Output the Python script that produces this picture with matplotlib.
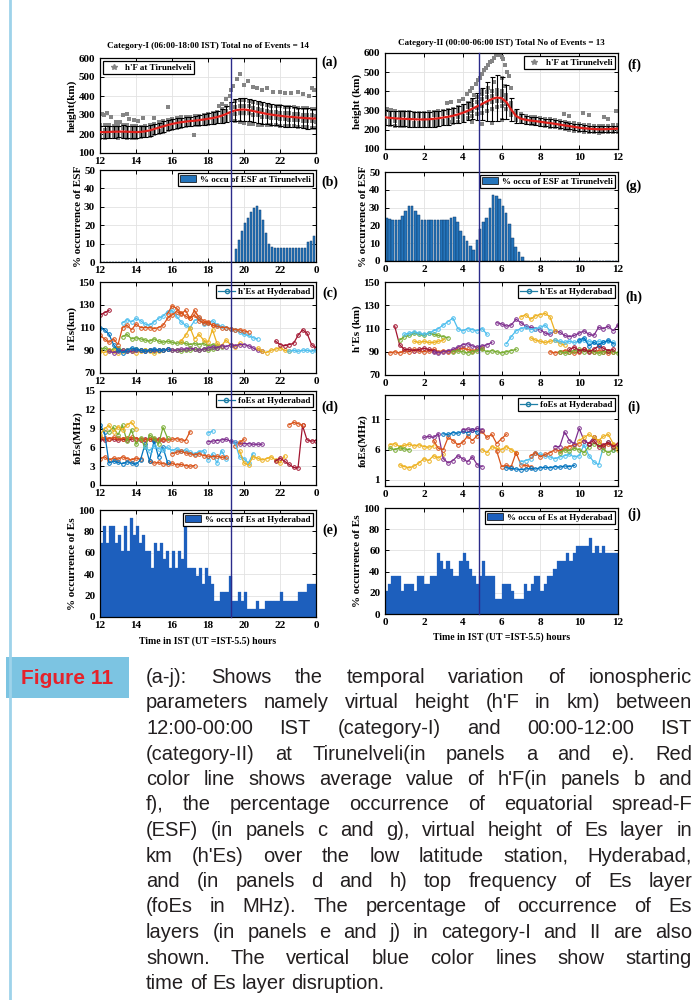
import numpy as np
import matplotlib
matplotlib.use("Agg")
import matplotlib.pyplot as plt
from matplotlib import font_manager
from matplotlib.lines import Line2D
from matplotlib.patches import Patch, Rectangle
from matplotlib.transforms import blended_transform_factory

# ---------------------------------------------------------------- data
STEP = 0.25          # h'F / Es-trace sampling interval (hours)
BIN = 1.0 / 6.0      # occurrence histogram bin (hours)

# Category-I : 12-24 IST
cat1_title = "Category-I (06:00-18:00 IST) Total no of Events = 14"
cat1_xticks = [12, 14, 16, 18, 20, 22, 24]
cat1_xticklabels = ["12", "14", "16", "18", "20", "22", "0"]
cat1_disrupt = 19.3

hf1_mean = [210, 210, 211, 212, 212, 213, 212, 211, 210, 211,
            214, 219, 226, 233, 240, 247, 253, 258, 262, 265,
            268, 270, 273, 276, 280, 284, 289, 296, 305, 316,
            324, 328, 329, 326, 321, 316, 311, 306, 302, 299,
            296, 293, 291, 289, 287, 285, 283, 282, 281]
hf1_err = [32, 30, 33, 31, 30, 32, 31, 30, 30, 29,
           28, 30, 28, 27, 28, 26, 27, 25, 24, 25,
           24, 25, 26, 27, 28, 30, 32, 36, 42, 50,
           58, 60, 62, 60, 58, 57, 56, 55, 55, 54,
           55, 54, 55, 53, 52, 54, 55, 52, 50]
hf1_upper = [245, 248, 250, 244, 246, 250, 247, 243, 240, 238,
             244, 250, 255, 262, 270, 276, 280, 283, 287, 290,
             292, 293, 296, 300, 305, 310, 318, 330, 345, 360,
             372, 378, 380, 375, 368, 362, 358, 352, 350, 348,
             346, 344, 342, 340, 338, 337, 335, 332, 330]
hf1_lower = [180, 178, 182, 185, 180, 183, 180, 178, 180, 183,
             188, 192, 198, 205, 212, 220, 228, 233, 238, 242,
             245, 247, 250, 253, 255, 258, 262, 265, 270, 278,
             268, 262, 258, 255, 252, 250, 248, 246, 246, 245,
             244, 242, 242, 240, 238, 236, 235, 234, 233]
hf1_mid_hi = [225, 222, 228, 226, 224, 230, 226, 225, 222, 225,
              228, 235, 240, 248, 255, 262, 268, 272, 276, 280,
              282, 284, 287, 290, 295, 298, 305, 312, 322, 335,
              342, 346, 348, 345, 338, 332, 328, 322, 318, 316,
              312, 310, 308, 305, 303, 300, 300, 298, 296]
hf1_mid_lo = [195, 198, 196, 200, 197, 198, 199, 196, 195, 197,
              200, 205, 212, 218, 225, 232, 238, 244, 248, 250,
              253, 256, 258, 262, 265, 270, 275, 280, 288, 298,
              305, 310, 312, 308, 302, 298, 292, 288, 285, 282,
              280, 278, 276, 274, 272, 270, 268, 266, 265]
hf1_out_t = [12.1, 12.2, 12.4, 12.6, 12.9, 13.1, 13.3, 13.5, 13.6, 13.9,
             14.1, 14.4, 15.0, 15.8, 17.2, 18.6, 18.8, 19.0, 19.2, 19.3,
             19.4, 19.6, 19.8, 20.0, 20.2, 20.5, 20.7, 21.0, 21.3, 21.6,
             22.0, 22.3, 22.6, 23.0, 23.3, 23.6, 23.8, 23.9]
hf1_out_h = [305, 300, 310, 292, 262, 265, 300, 305, 280, 275,
             270, 282, 285, 340, 195, 350, 360, 385, 400, 430,
             455, 490, 515, 460, 478, 450, 440, 430, 440, 420,
             420, 415, 418, 420, 410, 400, 440, 430]

esf1 = ([0] * 45 +
        [7, 12, 17, 21, 24, 27, 29.5, 30.5] +
        [28, 23, 16, 10, 8] +
        [7.5] * 11 +
        [11, 11.5, 14])

# (colour index, start hour, values every STEP hours)
hes1_traces = [
    (4, 12.0, [91, 92, 90, 91, 92, 90, 89, 90, 91, 90, 90, 90, 89, 90, 90, 91,
               90, 90, 89, 90, 90, 91, 90, 91, 90, 91, 92]),
    (2, 12.0, [89, 88, 90, 89, 88, 89, 90, 89, 88, 89, 90, 89, 88, 89, 90]),
    (3, 12.5, [89, 88, 89, 90, 89, 89, 90, 90, 89, 90, 90, 90, 90, 91, 90, 90,
               91, 91, 92, 91]),
    (0, 12.0, [110, 108, 104, 95, 90, 88, 90, 92, 91, 90, 89, 90, 91, 90, 90, 91]),
    (4, 13.25, [102, 104, 100, 101, 100, 99, 98, 100, 98, 97, 98, 97, 96, 97, 96,
                95, 96, 95, 96, 94, 95, 94, 93]),
    (5, 13.25, [114, 117, 115, 118, 116, 113, 112, 115, 118, 120, 124, 125, 120,
                115, 112, 110, 116, 118, 113, 114, 116, 112, 111, 110, 109, 108,
                106, 104, 103, 101, 100]),
    (1, 12.0, [103, 100, 97, 100, 95, 110, 112, 108, 113, 110, 110, 110, 109, 110,
               112, 118, 121, 124, 122, 125, 118, 121, 116, 114, 115, 112, 111,
               110, 110, 109, 108, 108, 107, 106]),
    (1, 15.75, [122, 129, 127, 123, 120, 118, 125, 119, 116, 114, 112]),
    (2, 16.5, [98, 103, 110, 100, 104, 99, 97, 108, 96, 94, 99, 95, 93, 96]),
    (6, 12.0, [121, 123, 125]),
    (3, 17.5, [90, 91, 92, 93, 92, 94, 93, 95, 94, 95, 95, 94, 92, 90, 89]),
    (2, 20.75, [92, 89, 88, 90, 91, 92, 90, 89]),
    (6, 21.75, [98, 95, 94, 95, 96, 103, 108, 105, 95, 92]),
    (5, 22.5, [89, 90, 89, 90, 90, 89, 90]),
]

foes1_traces = [
    (6, 12.0, [7.3, 7.2, 7.4, 7.3, 7.2, 7.3, 7.2, 7.3, 7.4, 7.2, 7.3, 7.3, 7.2, 7.3, 7.2]),
    (1, 12.0, [7.6, 7.5, 7.4, 7.6, 7.5, 7.4, 7.5, 7.6, 7.4, 7.3, 7.2, 7.3, 7.4, 7.2,
               7.3, 7.2, 7.3, 7.4, 7.2, 7.1, 8.5]),
    (1, 12.0, [4.2, 4.5, 4.0, 4.3, 4.1, 4.5, 4.2, 4.0, 4.3, 4.1]),
    (1, 14.75, [3.8, 3.5, 3.6, 3.4, 3.3, 3.5, 3.2, 3.3, 3.1, 3.0, 3.1]),
    (0, 12.0, [9.6, 8.4, 3.5, 3.8, 3.6, 3.4, 3.7, 3.5, 3.3, 4.0, 6.5, 3.8, 7.0, 4.5,
               6.0, 3.6]),
    (4, 12.5, [8.5, 9.2, 8.0, 9.5, 7.0, 8.8, 6.5, 7.5, 6.0, 8.0, 7.5, 6.5, 9.2, 7.5]),
    (2, 12.0, [8.0, 9.0, 9.5, 8.5, 9.3, 8.8, 9.6, 10.0, 9.0]),
    (5, 14.5, [6.0, 5.5, 6.2, 5.8, 5.6, 6.0, 5.5, 5.8, 5.4, 5.6, 5.2, 5.0, 5.3, 5.5,
               4.0, 5.0, 3.5, 5.5, 4.2]),
    (1, 16.0, [5.0, 5.2, 5.4, 5.1, 5.0, 4.8, 5.0, 4.7, 4.6, 4.5, 4.6, 4.4, 4.5]),
    (5, 18.0, [8.3, 8.6]),
    (3, 18.0, [6.9, 7.0, 7.1, 7.2, 7.3, 7.0, 6.8, 6.6, 6.6, 6.6, 6.5, 6.5, 6.5]),
    (1, 19.5, [6.3, 6.8, 7.3]),
    (5, 19.5, [6.8, 4.5, 4.2, 3.5, 5.0]),
    (2, 19.75, [5.5, 3.5, 3.2, 4.5, 4.3, 4.0, 4.2, 4.5, 4.0, 3.5, 4.6]),
    (6, 21.75, [3.8, 4.3, 3.8, 3.3, 2.8, 2.7, 9.5, 7.2, 7.0, 7.1]),
    (1, 22.5, [9.6, 10.0, 9.8, 9.5]),
]

es1 = [69.2, 84.6, 69.2, 84.6, 84.6, 69.2, 76.9, 61.5, 84.6, 61.5,
       92.3, 76.9, 84.6, 69.2, 76.9, 61.5, 61.5, 46.2, 69.2, 61.5,
       69.2, 53.8, 61.5, 46.2, 61.5, 46.2, 61.5, 53.8, 84.6, 46.2,
       46.2, 46.2, 38.5, 46.2, 30.8, 46.2, 38.5, 30.8, 15.4, 15.4,
       23.1, 23.1, 23.1, 38.5, 15.4, 15.4, 23.1, 15.4, 23.1, 7.7,
       7.7, 7.7, 15.4, 7.7, 7.7, 15.4, 15.4, 15.4, 15.4, 15.4,
       23.1, 15.4, 15.4, 15.4, 15.4, 15.4, 23.1, 23.1, 23.1, 30.8,
       30.8, 30.8]

# Category-II : 00-12 IST
cat2_title = "Category-II (00:00-06:00 IST) Total No of Events = 13"
cat2_xticks = [0, 2, 4, 6, 8, 10, 12]
cat2_xticklabels = ["0", "2", "4", "6", "8", "10", "12"]
cat2_disrupt = 4.85

hf2_mean = [265, 262, 260, 258, 257, 256, 255, 254, 254, 255,
            257, 260, 264, 268, 273, 280, 288, 298, 310, 322,
            335, 348, 360, 368, 365, 345, 305, 272, 258, 252,
            248, 245, 242, 238, 235, 231, 227, 223, 219, 215,
            211, 208, 206, 204, 203, 203, 204, 205, 206]
hf2_err = [40, 38, 40, 38, 39, 40, 38, 37, 38, 39,
           40, 38, 40, 42, 40, 42, 45, 48, 55, 70,
           85, 100, 115, 120, 110, 90, 60, 35, 25, 22,
           20, 20, 20, 19, 19, 18, 18, 18, 17, 17,
           17, 16, 16, 16, 16, 15, 15, 15, 15]
hf2_upper = [300, 298, 296, 295, 292, 294, 290, 288, 290, 292,
             295, 298, 300, 305, 310, 318, 325, 340, 355, 370,
             385, 395, 400, 405, 400, 380, 340, 295, 280, 272,
             268, 265, 262, 258, 255, 250, 246, 242, 238, 234,
             230, 226, 224, 222, 220, 221, 222, 224, 225]
hf2_lower = [228, 226, 222, 220, 222, 219, 218, 220, 218, 220,
             222, 225, 228, 230, 235, 240, 250, 262, 270, 280,
             290, 300, 310, 320, 325, 310, 275, 250, 240, 235,
             230, 228, 224, 220, 216, 212, 208, 205, 200, 196,
             193, 190, 188, 186, 185, 186, 187, 188, 190]
hf2_mid_hi = [280, 278, 276, 272, 275, 270, 272, 270, 268, 272,
              275, 276, 280, 285, 290, 296, 305, 318, 330, 345,
              358, 370, 378, 385, 380, 360, 320, 282, 268, 262,
              258, 255, 252, 248, 245, 240, 236, 232, 228, 224,
              220, 216, 214, 212, 210, 211, 212, 214, 215]
hf2_mid_lo = [248, 246, 244, 242, 240, 240, 238, 238, 240, 240,
              242, 245, 248, 252, 258, 265, 272, 285, 300, 312,
              325, 338, 345, 352, 350, 335, 300, 262, 250, 245,
              240, 236, 232, 228, 226, 222, 218, 215, 212, 208,
              204, 200, 198, 196, 195, 196, 197, 198, 200]
hf2_out_t = [0.1, 0.3, 3.2, 3.3, 3.4, 3.8, 4.0, 4.2, 4.4, 4.5,
             4.6, 4.7, 4.8, 4.9, 5.0, 5.0, 5.1, 5.2, 5.3, 5.3,
             5.4, 5.5, 5.6, 5.6, 5.7, 5.8, 5.9, 6.0, 6.0, 6.1,
             6.2, 6.2, 6.3, 6.4, 6.5, 4.5, 5.0, 5.5, 6.0, 9.2,
             9.5, 10.2, 10.5, 11.3, 11.5, 11.9]
hf2_out_h = [310, 305, 340, 240, 345, 350, 360, 385, 400, 420,
             380, 440, 460, 470, 490, 400, 510, 520, 540, 420,
             555, 560, 575, 450, 590, 600, 590, 580, 470, 570,
             540, 430, 500, 480, 420, 240, 230, 235, 250, 280,
             270, 290, 275, 265, 258, 300]

esf2 = ([24, 23.5, 23, 23, 23, 25.5, 28, 31, 31, 28, 26, 23] +
        [23] * 8 +
        [24, 25, 22, 17, 14, 11.5, 8.5, 6, 12, 18, 22, 24, 29.5, 37, 36.5, 35,
         31, 27, 21, 13, 8, 5, 2] +
        [0] * 29)

hes2_traces = [
    (1, 0.25, [89, 90, 89, 91, 90, 92, 91, 90, 91, 92, 90, 91, 90, 91, 92, 93, 92,
               91, 92, 93]),
    (6, 0.5, [112, 96, 92, 92, 91, 92, 93, 92, 91]),
    (4, 0.75, [100, 103, 104, 106, 105, 104, 106, 105, 104, 103, 102]),
    (5, 1.0, [105, 106, 107, 106, 105, 106, 108, 110, 113, 116, 119, 110, 108, 110,
              109, 108, 110, 105]),
    (2, 1.5, [99, 98, 99, 98, 98, 99, 100]),
    (3, 2.5, [90, 89, 90, 91, 92, 94, 96, 97, 95, 94, 95, 96, 98]),
    (4, 3.5, [90, 91, 90, 89, 90, 91, 92, 90, 91, 90, 89, 90, 91, 92]),
    (3, 5.75, [115, 114, 112, 113, 118, 115, 112, 111, 110, 109, 106, 105, 108, 107,
               104, 103, 104, 106, 108, 105, 104, 111, 110, 112, 108, 113]),
    (5, 6.25, [97, 103, 108, 110, 111, 109, 110, 111, 113, 108]),
    (2, 7.0, [120, 122, 118, 121, 122, 123, 120, 108]),
    (2, 7.5, [102, 100, 99, 98, 99, 100, 97, 96]),
    (5, 8.75, [100, 99, 98, 99, 98, 99, 100, 99, 98, 99, 98, 99, 98]),
    (1, 8.5, [90, 89, 90, 91, 90, 89, 90, 92, 91, 90, 91, 90, 89, 90]),
    (4, 9.0, [90, 89, 90, 91, 92, 90, 91, 90, 89, 90, 91, 90, 89]),
    (6, 9.5, [92, 94, 91, 92, 90, 92, 95, 93, 91, 92]),
    (0, 10.0, [100, 102, 95, 98, 96, 98, 100, 97]),
]

foes2_traces = [
    (2, 0.25, [6.8, 7.0, 6.5, 6.7, 6.9, 6.6, 6.8, 6.5, 6.4, 6.6]),
    (4, 0.25, [6.2, 6.0, 6.3, 6.1, 6.0]),
    (2, 0.75, [3.5, 3.2, 3.0, 3.3, 3.8, 4.5, 4.2, 5.0, 4.6, 5.2]),
    (3, 2.0, [8.0, 8.2, 8.0, 8.6, 4.5, 3.8, 4.2, 5.0, 4.5, 4.0, 4.8, 3.5, 3.2]),
    (1, 2.5, [7.5, 6.2, 6.0, 8.0, 7.5, 6.8, 7.2, 8.2, 7.5, 8.3, 9.0, 8.0, 8.5, 7.0,
              7.8, 8.5]),
    (0, 3.0, [8.6, 8.5, 8.8, 8.7, 9.0, 8.8, 9.2, 8.9]),
    (3, 4.0, [9.3, 9.4, 9.2, 9.5, 9.3]),
    (2, 5.0, [6.0, 5.5, 6.5, 6.2, 6.0, 6.5, 6.0, 5.5]),
    (1, 5.75, [5.8, 3.2, 3.4, 3.2, 5.5, 3.5, 3.4, 3.2]),
    (0, 6.25, [3.0, 2.9, 2.8, 2.7, 2.8, 2.9, 2.8, 3.0, 3.1, 3.0, 3.2, 3.1, 3.3, 3.2,
               3.4]),
    (5, 7.0, [4.0, 4.2, 4.5, 5.5, 5.2, 5.0, 4.8, 4.5, 4.8, 5.0, 5.2, 4.8, 5.0, 6.8,
              5.0, 4.0, 3.5, 6.5, 7.2, 6.0]),
    (1, 7.5, [5.0, 5.5, 4.8, 5.2, 5.5, 6.0, 5.8, 6.2, 6.5, 6.8, 7.0, 7.5, 7.0, 8.0,
              7.5, 6.5, 7.0, 6.8]),
    (4, 9.0, [5.5, 6.0, 5.8, 6.2, 6.0, 5.5, 6.5, 7.0, 6.8, 6.0, 5.5, 6.0, 6.5]),
    (3, 8.75, [6.5, 6.5, 8.9, 7.5, 7.0, 9.5, 7.5, 7.0, 8.0]),
    (2, 10.0, [7.5, 8.0, 8.5, 8.0, 7.5, 8.2, 8.5, 7.0, 6.0]),
    (6, 10.5, [7.0, 7.5, 6.5, 6.8, 7.2, 6.5, 7.0]),
]

es2 = [21.4, 28.6, 35.7, 35.7, 35.7, 21.4, 28.6, 28.6, 28.6, 21.4,
       35.7, 35.7, 28.6, 28.6, 35.7, 35.7, 57.1, 50.0, 42.9, 50.0,
       42.9, 35.7, 35.7, 50.0, 57.1, 50.0, 42.9, 35.7, 28.6, 35.7,
       50.0, 35.7, 35.7, 35.7, 14.3, 14.3, 28.6, 28.6, 28.6, 21.4,
       14.3, 14.3, 14.3, 28.6, 21.4, 28.6, 35.7, 35.7, 21.4, 28.6,
       35.7, 35.7, 42.9, 50.0, 50.0, 50.0, 57.1, 50.0, 57.1, 64.3,
       64.3, 64.3, 64.3, 71.4, 57.1, 64.3, 57.1, 64.3, 57.1, 57.1,
       57.1, 57.1]

caption_label = "Figure 11"
caption_lines = [
    "(a-j): Shows the temporal variation of ionospheric",
    "parameters namely virtual height (h'F in km) between",
    "12:00-00:00 IST (category-I) and 00:00-12:00 IST",
    "(category-II) at Tirunelveli(in panels a and e). Red",
    "color line shows average value of h'F(in panels b and",
    "f), the percentage occurrence of equatorial spread-F",
    "(ESF)  (in panels c and g), virtual height of Es layer in",
    "km (h'Es) over the low latitude station, Hyderabad,",
    "and (in panels d and h) top frequency of Es layer",
    "(foEs in MHz). The percentage of occurrence of Es",
    "layers (in panels e and j) in category-I and II are also",
    "shown. The vertical blue color lines show starting",
    "time of Es layer disruption.",
]

# ---------------------------------------------------------------- style
W, H = 696, 1000
SERIF = ["Liberation Serif", "DejaVu Serif"]
installed = {f.name for f in font_manager.fontManager.ttflist}
NARROW = "Liberation Sans Narrow" if "Liberation Sans Narrow" in installed else "Liberation Sans"

plt.rcParams["font.family"] = SERIF
plt.rcParams["font.weight"] = "bold"
plt.rcParams["axes.labelweight"] = "bold"

ORDER = ["#0072BD", "#D95319", "#EDB120", "#7E2F8E", "#77AC30", "#4DBEEE", "#A2142F"]
GREY = "#858585"
BAR_ESF = "#2474bb"
BAR_ES = "#1d5fbd"
VLINE = "#2b2b8a"

fig = plt.figure(figsize=(W / 100, H / 100), dpi=100)


def px_axes(x0, x1, y0, y1):
    return fig.add_axes([x0 / W, 1 - y1 / H, (x1 - x0) / W, (y1 - y0) / H])


def style(ax, xlim, xticks, xlabels, ylim, yticks, ylabel):
    ax.set_xlim(*xlim)
    ax.set_ylim(*ylim)
    ax.set_xticks(xticks)
    ax.set_xticklabels(xlabels)
    ax.set_yticks(yticks)
    ax.grid(True, color="#e2e2e2", lw=0.6)
    ax.set_axisbelow(True)
    ax.tick_params(direction="in", top=True, right=True, length=3, width=0.7,
                   labelsize=8)
    ax.tick_params(axis="x", pad=3)
    ax.tick_params(axis="y", pad=3.5)
    for s in ax.spines.values():
        s.set_linewidth(0.9)
    ax.set_ylabel(ylabel, fontsize=8, labelpad=1)


def legend(ax, handle, label, loc="upper right"):
    leg = ax.legend([handle], [label], loc=loc, fontsize=6.5, frameon=True,
                    fancybox=False, framealpha=1, edgecolor="black",
                    borderpad=0.25, handletextpad=0.4, handlelength=1.8,
                    borderaxespad=0.35)
    leg.get_frame().set_linewidth(0.9)
    return leg


def hf_panel(ax, t0, mean, err, rows, out_t, out_h):
    t = t0 + STEP * np.arange(len(mean))
    for row in rows:
        ax.plot(t, row, ls="none", marker="s", ms=2.5, color=GREY, mew=0)
    ax.plot(out_t, out_h, ls="none", marker="s", ms=2.5, color=GREY, mew=0)
    ax.errorbar(t, mean, yerr=err, fmt="none", ecolor="black", elinewidth=0.8,
                capsize=1.8, capthick=0.8, zorder=3)
    ax.plot(t, mean, color="#e0201b", lw=1.6, zorder=4)


def traces(ax, items):
    for ci, start, vals in items:
        t = start + STEP * np.arange(len(vals))
        ax.plot(t, vals, "-o", color=ORDER[ci], lw=0.9, ms=2.6, mfc="none", mew=0.7)


hf_handle = Line2D([], [], ls="none", marker="*", ms=4, color=GREY)
trace_handle = Line2D([], [], color="#1f7fa6", lw=0.9, marker="o", ms=3, mfc="none")
esf_handle = Patch(facecolor=BAR_ESF, edgecolor="black", lw=0.5)
es_handle = Patch(facecolor=BAR_ES, edgecolor="black", lw=0.5)

columns = [
    dict(x=(100, 316), rows=[(58, 153), (170, 262), (282, 373), (391, 485), (510, 617)],
         t0=12.0, xlim=(12, 24), xt=cat1_xticks, xl=cat1_xticklabels,
         mean=hf1_mean, err=hf1_err, hrows=[hf1_upper, hf1_lower, hf1_mid_hi, hf1_mid_lo],
         out=(hf1_out_t, hf1_out_h), esf=esf1, hes=hes1_traces, foes=foes1_traces,
         es=es1, disrupt=cat1_disrupt, title=cat1_title, title_xy=(208, 46),
         xlabel_y=641, labels="abcde", label_x=330,
         label_y=[62, 182, 293, 407, 530], hf_loc="upper left",
         ylabels=["height(km)", "% occurrence of ESF", "h'Es(km)", "foEs(MHz)",
                  "% occurrence of Es"],
         foes_yt=[0, 3, 6, 9, 12, 15]),
    dict(x=(385, 618), rows=[(53, 149), (172, 261), (282, 375), (395, 486), (508, 614)],
         t0=0.0, xlim=(0, 12), xt=cat2_xticks, xl=cat2_xticklabels,
         mean=hf2_mean, err=hf2_err, hrows=[hf2_upper, hf2_lower, hf2_mid_hi, hf2_mid_lo],
         out=(hf2_out_t, hf2_out_h), esf=esf2, hes=hes2_traces, foes=foes2_traces,
         es=es2, disrupt=cat2_disrupt, title=cat2_title, title_xy=(501, 43),
         xlabel_y=637, labels="fghij", label_x=634,
         label_y=[65, 186, 297, 407, 514], hf_loc="upper right",
         ylabels=["height (km)", "% occurrence of ESF", "h'Es (km)", "foEs(MHz)",
                  "% occurrence of Es"],
         foes_yt=[1, 6, 11]),
]

for col in columns:
    x0, x1 = col["x"]
    axs = [px_axes(x0, x1, y0, y1) for (y0, y1) in col["rows"]]
    a_hf, a_esf, a_hes, a_foes, a_es = axs
    bins = col["t0"] + BIN * np.arange(len(col["esf"]))

    hf_panel(a_hf, col["t0"], col["mean"], col["err"], col["hrows"], *col["out"])
    style(a_hf, col["xlim"], col["xt"], col["xl"], (100, 600),
          [100, 200, 300, 400, 500, 600], col["ylabels"][0])
    legend(a_hf, hf_handle, "h'F at Tirunelveli", loc=col["hf_loc"])

    a_esf.bar(bins, col["esf"], width=0.8 * BIN, align="edge", color=BAR_ESF,
              edgecolor="#123e6c", lw=0.35)
    style(a_esf, col["xlim"], col["xt"], col["xl"], (0, 50),
          [0, 10, 20, 30, 40, 50], col["ylabels"][1])
    legend(a_esf, esf_handle, "% occu of ESF at Tirunelveli")

    traces(a_hes, col["hes"])
    style(a_hes, col["xlim"], col["xt"], col["xl"], (70, 150),
          [70, 90, 110, 130, 150], col["ylabels"][2])
    legend(a_hes, trace_handle, "h'Es at Hyderabad")

    traces(a_foes, col["foes"])
    style(a_foes, col["xlim"], col["xt"], col["xl"], (0, 15),
          col["foes_yt"], col["ylabels"][3])
    legend(a_foes, trace_handle, "foEs at Hyderabad")

    a_es.bar(bins, col["es"], width=BIN, align="edge", color=BAR_ES,
             edgecolor=BAR_ES, lw=0.2)
    style(a_es, col["xlim"], col["xt"], col["xl"], (0, 100),
          [0, 20, 40, 60, 80, 100], col["ylabels"][4])
    legend(a_es, es_handle, "% occu of Es at Hyderabad")

    # start of Es-layer disruption, drawn through the whole column
    tr = blended_transform_factory(a_hf.transData, fig.transFigure)
    fig.add_artist(Line2D([col["disrupt"]] * 2,
                          [a_es.get_position().y0, a_hf.get_position().y1],
                          transform=tr, color=VLINE, lw=1.0, zorder=10))

    tx, ty = col["title_xy"]
    fig.text(tx / W, 1 - ty / H, col["title"], ha="center", va="center",
             fontsize=6.5, fontweight="bold")
    fig.text((x0 + x1) / 2 / W, 1 - col["xlabel_y"] / H,
             "Time in IST (UT =IST-5.5) hours", ha="center", va="center",
             fontsize=7, fontweight="bold")
    for lab, ly in zip(col["labels"], col["label_y"]):
        fig.text(col["label_x"] / W, 1 - ly / H, "(%s)" % lab, ha="center",
                 va="center", fontsize=10, fontweight="bold")

# ---------------------------------------------------------------- caption block
fig.add_artist(Line2D([10 / W, 10 / W], [0, 1], transform=fig.transFigure,
                      color="#9ed3ea", lw=2))
fig.add_artist(Rectangle((6 / W, 1 - 698 / H), 123 / W, 41 / H,
                         transform=fig.transFigure, facecolor="#7cc4e2",
                         edgecolor="none"))
fig.text(67 / W, 1 - 678 / H, caption_label, ha="center", va="center",
         fontsize=19 if NARROW.endswith("Narrow") else 15, fontweight="bold",
         family=NARROW, color="#e5222b")

renderer = fig.canvas.get_renderer()
cap_x0, cap_x1 = 146, 692
cap_base, cap_dy = 683, 25.5
cap_size = 18.5 if NARROW.endswith("Narrow") else 14.5


def text_width(s, size):
    t = fig.text(0, 0, s, fontsize=size, family=NARROW, fontweight="normal")
    w = t.get_window_extent(renderer).width
    t.remove()
    return w


natural = max(text_width(ln, cap_size) for ln in caption_lines)
if natural > (cap_x1 - cap_x0) * 0.99:
    cap_size *= (cap_x1 - cap_x0) * 0.99 / natural
space_w = text_width("a a", cap_size) - text_width("aa", cap_size)

for k, line in enumerate(caption_lines):
    words = line.split()
    yb = 1 - (cap_base + k * cap_dy) / H
    items = [fig.text(0, yb, w, fontsize=cap_size, family=NARROW, va="baseline",
                      color="#231f20", fontweight="normal") for w in words]
    widths = [it.get_window_extent(renderer).width for it in items]
    if k == len(caption_lines) - 1:
        gap = space_w
    else:
        gap = (cap_x1 - cap_x0 - sum(widths)) / (len(words) - 1)
    x = cap_x0
    for it, w in zip(items, widths):
        it.set_x(x / W)
        x += w + gap

fig.savefig("out.png", dpi=100)
